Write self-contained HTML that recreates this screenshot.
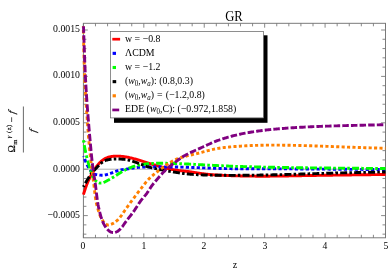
<!DOCTYPE html>
<html><head><meta charset="utf-8"><style>
html,body{margin:0;padding:0;background:#fff;}
html{overflow:hidden;width:388px;height:277px;}
body{width:388px;height:277px;position:relative;overflow:hidden;will-change:transform;font-family:"Liberation Serif",serif;color:#000;}
.t{position:absolute;white-space:nowrap;line-height:1;}
.yl{font-size:11.4px;text-align:right;width:60px;left:19.5px;transform:scaleX(0.86);transform-origin:100% 50%;}
.xl{font-size:11.2px;text-align:center;width:20px;transform:scaleX(0.86);}
.lg{font-size:10.8px;left:125px;transform:scaleX(0.912);transform-origin:0 50%;}
.lg i{font-style:italic;}
.lg sub{font-size:7.6px;vertical-align:baseline;position:relative;top:2.2px;}
</style></head><body>
<svg width="388" height="277" viewBox="0 0 388 277" style="position:absolute;left:0;top:0">
<defs><clipPath id="pc"><rect x="81.4" y="23.3" width="306.1" height="214.5"/></clipPath></defs>
<line x1="83.4" y1="169.2" x2="385.5" y2="169.2" stroke="#b0b0b0" stroke-width="1"/>
<rect x="83.4" y="23.3" width="302.1" height="214.5" fill="none" stroke="#747474" stroke-width="0.95"/>
<path d="M83.40,237.80 v-4.40 M83.40,23.30 v4.40 M95.48,237.80 v-3.00 M95.48,23.30 v3.00 M107.57,237.80 v-3.00 M107.57,23.30 v3.00 M119.65,237.80 v-3.00 M119.65,23.30 v3.00 M131.74,237.80 v-3.00 M131.74,23.30 v3.00 M143.82,237.80 v-4.40 M143.82,23.30 v4.40 M155.90,237.80 v-3.00 M155.90,23.30 v3.00 M167.99,237.80 v-3.00 M167.99,23.30 v3.00 M180.07,237.80 v-3.00 M180.07,23.30 v3.00 M192.16,237.80 v-3.00 M192.16,23.30 v3.00 M204.24,237.80 v-4.40 M204.24,23.30 v4.40 M216.32,237.80 v-3.00 M216.32,23.30 v3.00 M228.41,237.80 v-3.00 M228.41,23.30 v3.00 M240.49,237.80 v-3.00 M240.49,23.30 v3.00 M252.58,237.80 v-3.00 M252.58,23.30 v3.00 M264.66,237.80 v-4.40 M264.66,23.30 v4.40 M276.74,237.80 v-3.00 M276.74,23.30 v3.00 M288.83,237.80 v-3.00 M288.83,23.30 v3.00 M300.91,237.80 v-3.00 M300.91,23.30 v3.00 M313.00,237.80 v-3.00 M313.00,23.30 v3.00 M325.08,237.80 v-4.40 M325.08,23.30 v4.40 M337.16,237.80 v-3.00 M337.16,23.30 v3.00 M349.25,237.80 v-3.00 M349.25,23.30 v3.00 M361.33,237.80 v-3.00 M361.33,23.30 v3.00 M373.42,237.80 v-3.00 M373.42,23.30 v3.00 M385.50,237.80 v-4.40 M385.50,23.30 v4.40 M83.40,234.16 h3.00 M385.50,234.16 h-3.00 M83.40,224.88 h3.00 M385.50,224.88 h-3.00 M83.40,215.60 h4.40 M385.50,215.60 h-4.40 M83.40,206.32 h3.00 M385.50,206.32 h-3.00 M83.40,197.04 h3.00 M385.50,197.04 h-3.00 M83.40,187.76 h3.00 M385.50,187.76 h-3.00 M83.40,178.48 h3.00 M385.50,178.48 h-3.00 M83.40,169.20 h4.40 M385.50,169.20 h-4.40 M83.40,159.92 h3.00 M385.50,159.92 h-3.00 M83.40,150.64 h3.00 M385.50,150.64 h-3.00 M83.40,141.36 h3.00 M385.50,141.36 h-3.00 M83.40,132.08 h3.00 M385.50,132.08 h-3.00 M83.40,122.80 h4.40 M385.50,122.80 h-4.40 M83.40,113.52 h3.00 M385.50,113.52 h-3.00 M83.40,104.24 h3.00 M385.50,104.24 h-3.00 M83.40,94.96 h3.00 M385.50,94.96 h-3.00 M83.40,85.68 h3.00 M385.50,85.68 h-3.00 M83.40,76.40 h4.40 M385.50,76.40 h-4.40 M83.40,67.12 h3.00 M385.50,67.12 h-3.00 M83.40,57.84 h3.00 M385.50,57.84 h-3.00 M83.40,48.56 h3.00 M385.50,48.56 h-3.00 M83.40,39.28 h3.00 M385.50,39.28 h-3.00 M83.40,30.00 h4.40 M385.50,30.00 h-4.40" stroke="#747474" stroke-width="0.85" fill="none"/>
<g clip-path="url(#pc)" fill="none" stroke-width="2.9" stroke-linejoin="round">
<path d="M83.40,194.60 L83.65,193.82 L83.90,193.04 L84.15,192.27 L84.40,191.49 L84.65,190.71 L84.91,189.94 L85.16,189.16 L85.43,188.39 L85.70,187.62 L85.97,186.85 L86.25,186.08 L86.53,185.32 L86.82,184.56 L87.12,183.79 L87.42,183.04 L87.73,182.28 L88.05,181.53 L88.38,180.78 L88.71,180.03 L89.05,179.29 L89.39,178.55 L89.75,177.81 L90.11,177.08 L90.48,176.35 L90.85,175.63 L91.23,174.90 L91.63,174.19 L92.02,173.47 L92.43,172.77 L92.84,172.06 L93.26,171.36 L93.69,170.67 L94.13,169.99 L94.58,169.30 L95.04,168.63 L95.50,167.96 L95.98,167.29 L96.46,166.64 L96.96,165.98 L97.47,165.34 L97.99,164.70 L98.52,164.07 L99.07,163.45 L99.62,162.84 L100.20,162.25 L100.79,161.68 L101.40,161.13 L102.02,160.61 L102.67,160.11 L103.33,159.63 L104.01,159.19 L104.72,158.78 L105.45,158.41 L106.19,158.06 L106.95,157.75 L107.72,157.46 L108.50,157.21 L109.29,156.99 L110.09,156.79 L110.89,156.62 L111.70,156.48 L112.51,156.36 L113.32,156.27 L114.14,156.20 L114.95,156.15 L115.77,156.12 L116.59,156.10 L117.40,156.10 L118.22,156.12 L119.04,156.15 L119.85,156.20 L120.67,156.25 L121.48,156.32 L122.30,156.41 L123.11,156.50 L123.92,156.61 L124.73,156.73 L125.54,156.85 L126.34,156.99 L127.15,157.14 L127.95,157.29 L128.75,157.45 L129.55,157.62 L130.35,157.80 L131.14,157.99 L131.94,158.18 L132.73,158.37 L133.52,158.58 L134.31,158.79 L135.10,159.00 L135.88,159.22 L136.67,159.44 L137.45,159.67 L138.24,159.90 L139.02,160.13 L139.80,160.37 L140.58,160.61 L141.36,160.85 L142.14,161.10 L142.92,161.34 L143.70,161.59 L144.48,161.83 L145.26,162.08 L146.04,162.33 L146.82,162.58 L147.60,162.82 L148.37,163.07 L149.15,163.32 L149.93,163.56 L150.71,163.81 L151.49,164.05 L152.27,164.30 L153.05,164.54 L153.83,164.78 L154.61,165.01 L155.39,165.25 L156.18,165.48 L156.96,165.71 L157.74,165.94 L158.53,166.17 L159.31,166.39 L160.10,166.61 L160.88,166.83 L161.67,167.05 L162.46,167.26 L163.25,167.47 L164.04,167.67 L164.83,167.87 L165.62,168.07 L166.42,168.26 L167.21,168.44 L168.01,168.63 L168.81,168.80 L169.60,168.98 L170.40,169.14 L171.20,169.31 L172.01,169.46 L172.81,169.62 L173.61,169.76 L174.42,169.90 L175.22,170.04 L176.03,170.17 L176.84,170.29 L177.65,170.40 L178.46,170.51 L179.27,170.61 L180.08,170.71 L180.89,170.80 L181.70,170.88 L182.51,170.96 L183.33,171.04 L184.14,171.11 L184.95,171.19 L185.76,171.27 L186.58,171.35 L187.39,171.44 L188.20,171.54 L189.01,171.64 L189.82,171.74 L190.62,171.85 L191.43,171.97 L192.24,172.09 L193.05,172.21 L193.86,172.33 L194.66,172.46 L195.47,172.58 L196.28,172.71 L197.08,172.84 L197.89,172.96 L198.70,173.09 L199.50,173.22 L200.31,173.34 L201.12,173.46 L201.93,173.58 L202.73,173.70 L203.54,173.81 L204.35,173.92 L205.16,174.02 L205.97,174.12 L206.78,174.21 L207.59,174.30 L208.40,174.38 L209.22,174.46 L210.03,174.54 L210.84,174.61 L211.66,174.68 L212.47,174.74 L213.28,174.80 L214.10,174.86 L214.91,174.91 L215.73,174.97 L216.54,175.02 L217.36,175.06 L218.17,175.11 L218.99,175.15 L219.81,175.19 L220.62,175.23 L221.44,175.27 L222.25,175.31 L223.07,175.35 L223.89,175.39 L224.70,175.42 L225.52,175.46 L226.34,175.49 L227.15,175.52 L227.97,175.56 L228.78,175.59 L229.60,175.62 L230.42,175.65 L231.23,175.68 L232.05,175.70 L232.86,175.73 L233.68,175.76 L234.50,175.78 L235.31,175.81 L236.13,175.83 L236.94,175.86 L237.76,175.88 L238.58,175.90 L239.39,175.92 L240.21,175.94 L241.03,175.96 L241.84,175.98 L242.66,176.00 L243.47,176.01 L244.29,176.03 L245.11,176.05 L245.92,176.06 L246.74,176.07 L247.55,176.09 L248.37,176.10 L249.19,176.11 L250.00,176.12 L250.82,176.13 L251.64,176.14 L252.45,176.15 L253.27,176.16 L254.08,176.17 L254.90,176.17 L255.72,176.18 L256.53,176.18 L257.35,176.19 L258.16,176.19 L258.98,176.20 L259.80,176.20 L260.61,176.20 L261.43,176.20 L262.25,176.20 L263.06,176.20 L263.88,176.20 L264.69,176.20 L265.51,176.20 L266.33,176.19 L267.14,176.19 L267.96,176.19 L268.78,176.18 L269.59,176.18 L270.41,176.17 L271.22,176.16 L272.04,176.16 L272.86,176.15 L273.67,176.14 L274.49,176.13 L275.31,176.12 L276.12,176.11 L276.94,176.10 L277.75,176.09 L278.57,176.08 L279.39,176.07 L280.20,176.06 L281.02,176.05 L281.84,176.04 L282.65,176.02 L283.47,176.01 L284.28,176.00 L285.10,175.98 L285.92,175.97 L286.73,175.96 L287.55,175.94 L288.37,175.93 L289.18,175.91 L290.00,175.90 L290.81,175.89 L291.63,175.87 L292.45,175.86 L293.26,175.84 L294.08,175.82 L294.90,175.81 L295.71,175.79 L296.53,175.78 L297.34,175.76 L298.16,175.75 L298.98,175.73 L299.79,175.72 L300.61,175.70 L301.43,175.69 L302.24,175.67 L303.06,175.65 L303.87,175.64 L304.69,175.62 L305.51,175.61 L306.32,175.59 L307.14,175.58 L307.96,175.56 L308.77,175.55 L309.59,175.54 L310.40,175.52 L311.22,175.51 L312.04,175.49 L312.85,175.48 L313.67,175.47 L314.49,175.45 L315.30,175.44 L316.12,175.43 L316.93,175.41 L317.75,175.40 L318.57,175.39 L319.38,175.37 L320.20,175.36 L321.02,175.35 L321.83,175.34 L322.65,175.32 L323.46,175.31 L324.28,175.30 L325.10,175.29 L325.91,175.28 L326.73,175.26 L327.55,175.25 L328.36,175.24 L329.18,175.23 L329.99,175.22 L330.81,175.21 L331.63,175.19 L332.44,175.18 L333.26,175.17 L334.08,175.16 L334.89,175.15 L335.71,175.14 L336.52,175.13 L337.34,175.11 L338.16,175.10 L338.97,175.09 L339.79,175.08 L340.61,175.07 L341.42,175.06 L342.24,175.05 L343.05,175.04 L343.87,175.03 L344.69,175.02 L345.50,175.01 L346.32,175.00 L347.14,174.99 L347.95,174.97 L348.77,174.96 L349.58,174.95 L350.40,174.94 L351.22,174.93 L352.03,174.92 L352.85,174.91 L353.67,174.90 L354.48,174.89 L355.30,174.88 L356.11,174.87 L356.93,174.86 L357.75,174.85 L358.56,174.84 L359.38,174.83 L360.20,174.82 L361.01,174.81 L361.83,174.80 L362.64,174.79 L363.46,174.78 L364.28,174.77 L365.09,174.76 L365.91,174.74 L366.73,174.73 L367.54,174.72 L368.36,174.71 L369.17,174.70 L369.99,174.69 L370.81,174.68 L371.62,174.67 L372.44,174.66 L373.26,174.65 L374.07,174.64 L374.89,174.63 L375.70,174.62 L376.52,174.61 L377.34,174.60 L378.15,174.59 L378.97,174.58 L379.79,174.57 L380.60,174.56 L381.42,174.55 L382.23,174.54 L383.05,174.53 L383.87,174.52 L384.68,174.51 L385.50,174.50" stroke="#ff0000"/>
<path d="M83.40,156.20 L83.61,156.72 M84.58,159.04 L84.61,159.11 L84.91,159.83 L85.22,160.56 L85.54,161.28 L85.85,162.00 L86.00,162.32 M87.05,164.60 L87.17,164.84 L87.51,165.54 L87.87,166.24 L88.23,166.93 L88.61,167.62 L88.69,167.75 M90.00,169.84 L90.30,170.28 L90.78,170.92 L91.28,171.55 L91.81,172.15 L92.17,172.51 M94.05,173.91 L94.30,174.05 L95.03,174.32 L95.79,174.52 L96.57,174.66 L97.15,174.75 M99.39,175.04 L99.72,175.08 L100.51,175.15 L101.29,175.20 L102.07,175.21 L102.58,175.20 M104.82,174.98 L105.17,174.92 L105.94,174.77 L106.70,174.59 L107.47,174.38 L107.95,174.24 M110.12,173.53 L110.50,173.40 L111.24,173.13 L111.99,172.85 L112.73,172.57 L113.16,172.41 M115.30,171.60 L115.68,171.46 L116.42,171.20 L117.16,170.95 L117.91,170.71 L118.37,170.57 M120.56,169.99 L120.92,169.91 L121.69,169.76 L122.46,169.63 L123.24,169.51 L123.72,169.44 M125.96,169.16 L126.36,169.11 L127.14,169.01 L127.93,168.91 L128.71,168.80 L129.14,168.74 M131.37,168.39 L131.82,168.31 L132.59,168.18 L133.37,168.06 L134.14,167.93 L134.53,167.87 M136.77,167.55 L137.25,167.49 L138.03,167.40 L138.81,167.32 L139.59,167.25 L139.95,167.22 M142.20,167.09 L142.72,167.07 L143.51,167.05 L144.29,167.03 L145.08,167.02 L145.40,167.01 M147.65,167.00 L148.23,167.00 L149.02,167.00 L149.81,167.00 L150.60,167.00 L150.85,167.00 M153.10,167.00 L153.74,167.00 L154.53,167.00 L155.32,167.00 L156.10,167.00 L156.30,167.00 M158.55,167.00 L159.25,166.99 L160.04,166.99 L160.82,166.99 L161.61,166.99 L161.75,166.99 M164.00,166.99 L164.75,166.99 L165.54,166.99 L166.32,166.99 L167.11,166.99 L167.20,166.99 M169.45,167.00 L169.46,167.00 L170.25,167.00 L171.03,167.00 L171.82,167.01 L172.60,167.01 L172.65,167.01 M174.90,167.03 L174.96,167.03 L175.74,167.04 L176.53,167.05 L177.31,167.06 L178.10,167.07 L178.10,167.07 M180.35,167.11 L180.45,167.11 L181.24,167.12 L182.02,167.14 L182.81,167.16 L183.55,167.17 M185.80,167.23 L185.95,167.24 L186.73,167.26 L187.52,167.28 L188.30,167.30 L189.00,167.33 M191.25,167.40 L191.44,167.41 L192.23,167.43 L193.01,167.46 L193.80,167.49 L194.45,167.51 M196.69,167.59 L196.94,167.60 L197.72,167.63 L198.51,167.66 L199.29,167.69 L199.89,167.72 M202.14,167.80 L202.43,167.82 L203.22,167.85 L204.01,167.88 L204.79,167.91 L205.34,167.93 M207.59,168.02 L207.93,168.03 L208.72,168.06 L209.50,168.09 L210.29,168.12 L210.79,168.14 M213.03,168.22 L213.43,168.23 L214.22,168.26 L215.00,168.29 L215.79,168.32 L216.23,168.33 M218.48,168.40 L218.93,168.41 L219.71,168.44 L220.50,168.46 L221.29,168.48 L221.68,168.49 M223.93,168.55 L224.43,168.56 L225.21,168.58 L226.00,168.59 L226.79,168.61 L227.13,168.61 M229.38,168.65 L229.93,168.66 L230.71,168.67 L231.50,168.68 L232.28,168.69 L232.58,168.70 M234.83,168.72 L235.43,168.73 L236.21,168.74 L237.00,168.74 L237.78,168.75 L238.03,168.75 M240.28,168.77 L240.93,168.77 L241.71,168.78 L242.50,168.78 L243.28,168.78 L243.48,168.78 M245.73,168.79 L246.43,168.79 L247.21,168.79 L248.00,168.79 L248.79,168.80 L248.93,168.80 M251.18,168.80 L251.93,168.80 L252.71,168.80 L253.50,168.80 L254.29,168.80 L254.38,168.80 M256.63,168.80 L256.64,168.80 L257.43,168.80 L258.21,168.80 L259.00,168.80 L259.79,168.80 L259.83,168.80 M262.08,168.80 L262.14,168.80 L262.93,168.80 L263.71,168.80 L264.50,168.80 L265.28,168.80 M267.53,168.80 L267.64,168.80 L268.43,168.81 L269.21,168.81 L270.00,168.81 L270.73,168.81 M272.98,168.82 L273.14,168.82 L273.93,168.82 L274.71,168.82 L275.50,168.82 L276.18,168.83 M278.43,168.84 L278.64,168.84 L279.43,168.84 L280.21,168.84 L281.00,168.85 L281.63,168.85 M283.88,168.86 L284.14,168.86 L284.93,168.87 L285.71,168.87 L286.50,168.87 L287.08,168.88 M289.33,168.89 L289.64,168.89 L290.43,168.90 L291.21,168.90 L292.00,168.91 L292.53,168.91 M294.78,168.92 L295.14,168.93 L295.93,168.93 L296.71,168.94 L297.50,168.94 L297.98,168.94 M300.23,168.96 L300.64,168.96 L301.43,168.97 L302.21,168.97 L303.00,168.98 L303.43,168.98 M305.68,169.00 L306.14,169.00 L306.93,169.01 L307.71,169.01 L308.50,169.02 L308.88,169.02 M311.13,169.04 L311.64,169.04 L312.43,169.05 L313.21,169.05 L314.00,169.06 L314.33,169.06 M316.58,169.08 L317.14,169.08 L317.93,169.09 L318.71,169.09 L319.50,169.10 L319.78,169.10 M322.03,169.12 L322.64,169.12 L323.43,169.13 L324.21,169.13 L325.00,169.14 L325.23,169.14 M327.48,169.16 L328.14,169.16 L328.93,169.17 L329.71,169.18 L330.50,169.18 L330.68,169.18 M332.93,169.20 L333.64,169.21 L334.43,169.21 L335.21,169.22 L336.00,169.22 L336.13,169.22 M338.38,169.24 L339.14,169.25 L339.93,169.25 L340.71,169.26 L341.50,169.27 L341.58,169.27 M343.83,169.28 L343.86,169.28 L344.64,169.29 L345.43,169.30 L346.21,169.30 L347.00,169.31 L347.03,169.31 M349.28,169.33 L349.36,169.33 L350.14,169.33 L350.93,169.34 L351.71,169.34 L352.48,169.35 M354.73,169.37 L354.86,169.37 L355.64,169.37 L356.43,169.38 L357.21,169.39 L357.93,169.39 M360.18,169.41 L360.36,169.41 L361.14,169.42 L361.93,169.42 L362.71,169.43 L363.38,169.43 M365.63,169.45 L365.86,169.45 L366.64,169.46 L367.43,169.46 L368.21,169.47 L368.83,169.47 M371.08,169.49 L371.36,169.49 L372.14,169.50 L372.93,169.50 L373.71,169.51 L374.28,169.52 M376.53,169.53 L376.86,169.53 L377.64,169.54 L378.43,169.55 L379.21,169.55 L379.73,169.56 M381.98,169.57 L382.36,169.58 L383.14,169.58 L383.93,169.59 L384.71,169.59 L385.18,169.60" stroke="#0000ff"/>
<path d="M83.40,140.20 L83.55,141.03 L83.69,141.87 L83.82,142.63 M84.26,145.10 L84.28,145.20 L84.43,146.03 L84.58,146.86 L84.74,147.69 L84.90,148.53 L85.06,149.36 L85.22,150.19 L85.39,151.02 L85.56,151.84 L85.73,152.67 L85.78,152.91 M86.32,155.35 L86.47,155.97 L86.66,156.80 L86.86,157.62 L87.01,158.22 M87.63,160.64 L87.70,160.90 L87.92,161.71 L88.15,162.53 L88.38,163.34 L88.62,164.15 L88.86,164.97 L89.11,165.78 L89.35,166.58 L89.60,167.39 L89.86,168.20 L89.87,168.23 M90.62,170.59 L90.62,170.62 L90.88,171.42 L91.14,172.23 L91.39,173.03 L91.51,173.38 M92.36,175.70 L92.57,176.19 L92.92,176.96 L93.32,177.71 L93.76,178.45 L94.26,179.18 L94.80,179.88 L95.40,180.55 L96.04,181.17 L96.72,181.73 L96.78,181.78 M98.77,182.83 L98.95,182.89 L99.73,183.05 L100.54,183.09 L101.35,183.03 M103.49,182.45 L103.83,182.32 L104.65,181.97 L105.47,181.58 L106.27,181.17 L107.06,180.76 L107.83,180.34 L108.59,179.93 L109.34,179.51 L109.88,179.21 M111.84,178.07 L112.24,177.83 L112.95,177.40 L113.65,176.97 L114.14,176.66 M116.06,175.44 L116.48,175.17 L117.19,174.72 L117.90,174.26 L118.61,173.80 L119.33,173.35 L120.05,172.90 L120.78,172.45 L121.50,172.01 L122.20,171.60 M124.18,170.50 L124.46,170.34 L125.21,169.95 L125.96,169.57 L126.55,169.29 M128.60,168.36 L129.04,168.17 L129.82,167.85 L130.61,167.54 L131.40,167.25 L132.20,166.96 L133.01,166.69 L133.81,166.43 L134.62,166.19 L135.28,166.00 M137.43,165.44 L137.90,165.32 L138.73,165.14 L139.55,164.96 L139.98,164.88 M142.15,164.49 L142.89,164.37 L143.73,164.25 L144.56,164.13 L145.40,164.03 L146.25,163.93 L147.09,163.85 L147.93,163.77 L148.77,163.69 L149.11,163.67 M151.31,163.52 L152.15,163.47 L153.00,163.43 L153.84,163.39 L153.91,163.39 M156.11,163.32 L156.38,163.31 L157.23,163.30 L158.07,163.29 L158.92,163.28 L159.76,163.27 L160.61,163.27 L161.46,163.27 L162.30,163.27 L163.11,163.28 M165.31,163.30 L165.69,163.31 L166.53,163.32 L167.38,163.34 L167.91,163.35 M170.11,163.39 L170.76,163.41 L171.61,163.43 L172.45,163.45 L173.30,163.47 L174.14,163.50 L174.99,163.52 L175.83,163.55 L176.68,163.58 L177.10,163.59 M179.30,163.67 L180.06,163.70 L180.90,163.74 L181.75,163.77 L181.90,163.78 M184.10,163.87 L184.28,163.88 L185.13,163.91 L185.97,163.95 L186.82,163.99 L187.66,164.03 L188.51,164.07 L189.35,164.11 L190.20,164.15 L191.04,164.19 L191.09,164.19 M193.29,164.30 L193.58,164.32 L194.42,164.36 L195.26,164.41 L195.89,164.44 M198.09,164.55 L198.64,164.58 L199.49,164.63 L200.33,164.67 L201.18,164.72 L202.02,164.77 L202.87,164.81 L203.71,164.86 L204.56,164.90 L205.08,164.93 M207.28,165.05 L207.93,165.09 L208.78,165.13 L209.62,165.18 L209.87,165.19 M212.07,165.31 L212.16,165.31 L213.00,165.36 L213.85,165.40 L214.69,165.44 L215.54,165.49 L216.38,165.53 L217.23,165.57 L218.07,165.61 L218.91,165.65 L219.06,165.66 M221.26,165.77 L221.45,165.77 L222.29,165.81 L223.14,165.85 L223.86,165.88 M226.06,165.98 L226.52,166.00 L227.36,166.03 L228.21,166.07 L229.05,166.10 L229.90,166.13 L230.74,166.17 L231.59,166.20 L232.43,166.23 L233.06,166.25 M235.25,166.33 L235.82,166.35 L236.66,166.38 L237.51,166.41 L237.85,166.42 M240.05,166.49 L240.89,166.52 L241.73,166.54 L242.58,166.57 L243.42,166.59 L244.27,166.62 L245.11,166.64 L245.96,166.67 L246.81,166.69 L247.05,166.70 M249.25,166.75 L249.34,166.76 L250.19,166.78 L251.03,166.80 L251.85,166.82 M254.05,166.88 L254.42,166.88 L255.26,166.90 L256.11,166.92 L256.95,166.94 L257.80,166.96 L258.64,166.98 L259.49,167.00 L260.33,167.02 L261.05,167.04 M263.25,167.08 L263.72,167.09 L264.56,167.11 L265.41,167.13 L265.85,167.14 M268.05,167.18 L268.79,167.20 L269.64,167.22 L270.48,167.23 L271.33,167.25 L272.17,167.26 L273.02,167.28 L273.86,167.30 L274.71,167.31 L275.04,167.32 M277.24,167.36 L277.25,167.36 L278.09,167.38 L278.94,167.39 L279.78,167.41 L279.84,167.41 M282.04,167.44 L282.32,167.45 L283.17,167.46 L284.01,167.48 L284.86,167.49 L285.70,167.51 L286.55,167.52 L287.40,167.53 L288.24,167.55 L289.04,167.56 M291.24,167.59 L291.62,167.60 L292.47,167.61 L293.31,167.63 L293.84,167.63 M296.04,167.67 L296.70,167.67 L297.54,167.69 L298.39,167.70 L299.23,167.71 L300.08,167.72 L300.93,167.73 L301.77,167.75 L302.62,167.76 L303.04,167.76 M305.24,167.79 L306.00,167.80 L306.85,167.81 L307.69,167.82 L307.84,167.82 M310.04,167.85 L310.23,167.85 L311.07,167.86 L311.92,167.87 L312.77,167.88 L313.61,167.89 L314.46,167.90 L315.30,167.91 L316.15,167.92 L316.99,167.93 L317.04,167.93 M319.24,167.95 L319.53,167.96 L320.38,167.97 L321.22,167.97 L321.84,167.98 M324.04,168.00 L324.61,168.01 L325.45,168.02 L326.30,168.02 L327.14,168.03 L327.99,168.04 L328.83,168.05 L329.68,168.06 L330.53,168.07 L331.04,168.07 M333.24,168.09 L333.91,168.10 L334.75,168.10 L335.60,168.11 L335.84,168.11 M338.04,168.13 L338.14,168.13 L338.98,168.14 L339.83,168.15 L340.68,168.16 L341.52,168.16 L342.37,168.17 L343.21,168.18 L344.06,168.18 L344.90,168.19 L345.04,168.19 M347.24,168.21 L347.44,168.21 L348.29,168.22 L349.13,168.23 L349.84,168.23 M352.04,168.25 L352.52,168.25 L353.36,168.26 L354.21,168.27 L355.05,168.27 L355.90,168.28 L356.74,168.29 L357.59,168.29 L358.44,168.30 L359.04,168.30 M361.24,168.32 L361.82,168.32 L362.66,168.33 L363.51,168.34 L363.84,168.34 M366.04,168.36 L366.05,168.36 L366.89,168.36 L367.74,168.37 L368.58,168.38 L369.43,168.38 L370.28,168.39 L371.12,168.39 L371.97,168.40 L372.81,168.41 L373.04,168.41 M375.24,168.43 L375.35,168.43 L376.20,168.43 L377.04,168.44 L377.84,168.44 M380.04,168.46 L380.43,168.46 L381.27,168.47 L382.12,168.48 L382.96,168.48 L383.81,168.49 L384.65,168.49 L385.50,168.50" stroke="#00ff00"/>
<path d="M83.40,186.90 L83.77,186.20 L84.15,185.50 L84.19,185.43 M85.35,183.29 L85.67,182.71 L86.05,182.02 L86.44,181.32 L86.84,180.63 L87.24,179.95 L87.64,179.26 L88.05,178.58 L88.47,177.90 L88.89,177.23 L89.26,176.66 M90.62,174.68 L90.68,174.60 L91.15,173.96 L91.63,173.33 L92.12,172.71 L92.31,172.49 M93.85,170.70 L94.19,170.32 L94.73,169.74 L95.27,169.15 L95.81,168.57 L96.36,167.99 L96.92,167.41 L97.47,166.83 L98.03,166.25 L98.58,165.66 L98.98,165.25 M100.66,163.63 L100.89,163.43 L101.49,162.91 L102.11,162.42 L102.75,161.96 M104.72,160.84 L104.81,160.80 L105.54,160.49 L106.29,160.22 L107.05,159.99 L107.83,159.78 L108.61,159.61 L109.40,159.46 L110.20,159.34 L110.99,159.24 L111.54,159.19 M113.74,159.05 L114.16,159.03 L114.95,159.01 L115.75,159.00 L116.29,159.00 M118.49,159.02 L118.93,159.03 L119.73,159.05 L120.53,159.09 L121.33,159.13 L122.12,159.19 L122.91,159.25 L123.71,159.33 L124.50,159.42 L125.28,159.53 L125.47,159.55 M127.65,159.93 L128.40,160.09 L129.17,160.27 L129.94,160.46 L130.14,160.52 M132.27,161.14 L132.97,161.37 L133.73,161.62 L134.48,161.88 L135.23,162.15 L135.97,162.42 L136.72,162.70 L137.46,162.98 L138.21,163.27 L138.95,163.55 M141.03,164.36 L141.19,164.41 L141.93,164.70 L142.68,164.98 L143.43,165.25 L143.46,165.26 M145.56,165.99 L145.68,166.03 L146.44,166.27 L147.20,166.51 L147.96,166.74 L148.72,166.96 L149.49,167.17 L150.25,167.38 L151.02,167.58 L151.79,167.78 L152.35,167.92 M154.51,168.42 L154.88,168.51 L155.66,168.68 L156.44,168.85 L157.01,168.97 M159.18,169.41 L159.56,169.48 L160.34,169.63 L161.12,169.78 L161.90,169.93 L162.68,170.07 L163.47,170.22 L164.25,170.36 L165.03,170.51 L165.81,170.65 L166.09,170.70 M168.26,171.09 L168.95,171.21 L169.73,171.35 L170.51,171.49 L170.78,171.54 M172.96,171.91 L173.65,172.03 L174.43,172.16 L175.21,172.29 L176.00,172.41 L176.78,172.54 L177.57,172.66 L178.35,172.78 L179.14,172.90 L179.89,173.01 M182.08,173.31 L182.28,173.34 L183.07,173.44 L183.86,173.54 L184.61,173.63 M186.80,173.88 L187.01,173.90 L187.80,173.98 L188.59,174.06 L189.38,174.13 L190.17,174.20 L190.96,174.27 L191.75,174.33 L192.55,174.39 L193.34,174.45 L193.78,174.48 M195.98,174.62 L196.51,174.65 L197.30,174.69 L198.10,174.73 L198.52,174.75 M200.72,174.85 L201.27,174.87 L202.07,174.90 L202.86,174.93 L203.66,174.96 L204.45,174.98 L205.24,175.01 L206.04,175.03 L206.83,175.05 L207.63,175.07 L207.72,175.08 M209.92,175.13 L210.01,175.13 L210.80,175.15 L211.60,175.16 L212.39,175.18 L212.47,175.18 M214.67,175.22 L214.77,175.22 L215.57,175.23 L216.36,175.24 L217.16,175.25 L217.95,175.26 L218.74,175.27 L219.54,175.28 L220.33,175.29 L221.13,175.29 L221.67,175.30 M223.87,175.31 L224.30,175.32 L225.10,175.32 L225.89,175.32 L226.42,175.33 M228.62,175.33 L229.07,175.33 L229.86,175.34 L230.66,175.34 L231.45,175.34 L232.25,175.34 L233.04,175.34 L233.83,175.34 L234.63,175.33 L235.42,175.33 L235.62,175.33 M237.82,175.32 L238.60,175.32 L239.39,175.32 L240.19,175.31 L240.37,175.31 M242.57,175.30 L242.57,175.30 L243.37,175.29 L244.16,175.28 L244.95,175.28 L245.75,175.27 L246.54,175.26 L247.34,175.25 L248.13,175.24 L248.93,175.24 L249.57,175.23 M251.77,175.20 L252.10,175.20 L252.90,175.19 L253.69,175.17 L254.32,175.17 M256.52,175.13 L256.87,175.13 L257.66,175.11 L258.46,175.10 L259.25,175.09 L260.05,175.07 L260.84,175.06 L261.63,175.04 L262.43,175.03 L263.22,175.02 L263.52,175.01 M265.72,174.97 L266.40,174.95 L267.19,174.94 L267.99,174.92 L268.27,174.91 M270.47,174.86 L271.16,174.85 L271.96,174.83 L272.75,174.81 L273.55,174.79 L274.34,174.77 L275.13,174.76 L275.93,174.74 L276.72,174.72 L277.46,174.70 M279.66,174.64 L279.90,174.64 L280.69,174.62 L281.49,174.60 L282.21,174.58 M284.41,174.52 L284.66,174.51 L285.46,174.49 L286.25,174.47 L287.04,174.45 L287.84,174.42 L288.63,174.40 L289.43,174.38 L290.22,174.36 L291.01,174.34 L291.41,174.32 M293.61,174.26 L294.19,174.24 L294.98,174.22 L295.78,174.20 L296.16,174.19 M298.36,174.12 L298.95,174.11 L299.75,174.08 L300.54,174.06 L301.33,174.04 L302.13,174.01 L302.92,173.99 L303.72,173.97 L304.51,173.94 L305.30,173.92 L305.36,173.92 M307.55,173.85 L307.69,173.85 L308.48,173.83 L309.27,173.80 L310.07,173.78 L310.10,173.78 M312.30,173.71 L312.45,173.71 L313.24,173.69 L314.04,173.66 L314.83,173.64 L315.62,173.62 L316.42,173.60 L317.21,173.57 L318.01,173.55 L318.80,173.53 L319.30,173.51 M321.50,173.45 L321.98,173.44 L322.77,173.41 L323.56,173.39 L324.05,173.38 M326.25,173.32 L326.74,173.30 L327.53,173.28 L328.33,173.26 L329.12,173.24 L329.92,173.21 L330.71,173.19 L331.50,173.17 L332.30,173.15 L333.09,173.13 L333.25,173.12 M335.45,173.07 L335.47,173.06 L336.27,173.04 L337.06,173.02 L337.86,173.00 L338.00,173.00 M340.19,172.94 L340.24,172.94 L341.03,172.92 L341.83,172.90 L342.62,172.88 L343.41,172.86 L344.21,172.84 L345.00,172.82 L345.80,172.80 L346.59,172.79 L347.19,172.77 M349.39,172.72 L349.77,172.71 L350.56,172.69 L351.35,172.68 L351.94,172.66 M354.14,172.61 L354.53,172.61 L355.32,172.59 L356.12,172.57 L356.91,172.55 L357.71,172.54 L358.50,172.52 L359.29,172.50 L360.09,172.49 L360.88,172.47 L361.14,172.47 M363.34,172.42 L364.06,172.41 L364.85,172.39 L365.65,172.38 L365.89,172.37 M368.09,172.33 L368.82,172.31 L369.62,172.30 L370.41,172.28 L371.21,172.27 L372.00,172.25 L372.79,172.24 L373.59,172.22 L374.38,172.21 L375.09,172.19 M377.29,172.15 L377.56,172.15 L378.35,172.13 L379.15,172.12 L379.84,172.10 M382.04,172.06 L382.32,172.06 L383.12,172.04 L383.91,172.03 L384.71,172.01 L385.50,172.00" stroke="#000000"/>
<path d="M83.20,26.20 L83.23,27.34 M83.30,29.98 L83.30,30.04 L83.34,31.32 L83.37,32.60 L83.40,33.53 M83.47,36.17 L83.48,36.43 L83.51,37.71 L83.55,38.99 L83.57,39.71 M83.64,42.35 L83.65,42.83 L83.69,44.11 L83.72,45.39 L83.74,45.90 M83.81,48.54 L83.83,49.22 L83.86,50.50 L83.89,51.78 L83.90,52.09 M83.97,54.73 L84.00,55.62 L84.03,56.90 L84.07,58.18 L84.07,58.27 M84.14,60.91 L84.18,62.01 L84.21,63.29 L84.25,64.46 M84.33,67.10 L84.33,67.13 L84.37,68.41 L84.42,69.69 L84.45,70.64 M84.54,73.28 L84.55,73.52 L84.60,74.80 L84.65,76.08 L84.68,76.83 M84.79,79.47 L84.81,79.92 L84.86,81.19 L84.92,82.47 L84.95,83.01 M85.08,85.65 L85.11,86.31 L85.18,87.58 L85.25,88.86 L85.26,89.19 M85.41,91.82 L85.46,92.69 L85.54,93.97 L85.61,95.25 L85.62,95.36 M85.78,98.00 L85.85,99.08 L85.93,100.36 L86.01,101.53 M86.18,104.17 L86.18,104.19 L86.26,105.47 L86.35,106.74 L86.41,107.71 M86.59,110.34 L86.60,110.57 L86.69,111.85 L86.78,113.13 L86.83,113.88 M87.01,116.51 L87.04,116.96 L87.13,118.23 L87.21,119.51 L87.25,120.05 M87.44,122.68 L87.48,123.34 L87.58,124.61 L87.67,125.89 L87.69,126.22 M87.89,128.85 L87.95,129.72 L88.05,130.99 L88.15,132.27 L88.16,132.38 M88.36,135.01 L88.45,136.10 L88.56,137.37 L88.65,138.54 M88.88,141.17 L88.88,141.20 L88.99,142.47 L89.10,143.75 L89.19,144.70 M89.44,147.33 L89.46,147.57 L89.58,148.84 L89.71,150.12 L89.78,150.85 M90.05,153.48 L90.10,153.94 L90.23,155.21 L90.37,156.48 L90.42,157.00 M90.71,159.62 L90.79,160.30 L90.93,161.57 L91.08,162.84 L91.11,163.14 M91.42,165.76 L91.53,166.65 L91.69,167.92 L91.85,169.19 L91.85,169.27 M92.19,171.88 L92.33,173.00 L92.49,174.27 L92.64,175.39 M92.98,178.01 L92.99,178.07 L93.16,179.34 L93.32,180.60 L93.44,181.51 M93.78,184.13 L93.82,184.41 L93.98,185.68 L94.13,186.95 L94.22,187.64 M94.53,190.26 L94.59,190.77 L94.73,192.05 L94.88,193.32 L94.93,193.77 M95.26,196.39 L95.36,197.14 L95.54,198.41 L95.73,199.67 L95.77,199.89 M96.24,202.47 L96.44,203.44 L96.72,204.68 L97.03,205.90 M97.75,208.41 L98.11,209.60 L98.49,210.83 L98.78,211.76 M99.57,214.24 L99.66,214.50 L100.10,215.70 L100.60,216.87 L100.89,217.45 M102.15,219.66 L102.50,220.21 L103.24,221.25 L104.01,222.27 L104.12,222.39 M105.88,224.09 L106.99,224.74 L108.22,225.01 L108.82,224.93 M111.05,224.29 L111.92,223.95 L113.07,223.41 L113.91,222.93 M115.87,221.54 L116.24,221.25 L117.20,220.39 L118.12,219.48 L118.28,219.30 M119.91,217.44 L120.61,216.55 L121.38,215.53 L121.93,214.75 M123.37,212.68 L123.57,212.37 L124.29,211.31 L125.01,210.25 L125.27,209.88 M126.70,207.80 L127.19,207.10 L127.93,206.05 L128.65,205.05 M130.12,203.01 L130.17,202.94 L130.93,201.90 L131.68,200.87 L132.11,200.29 M133.61,198.28 L133.98,197.79 L134.75,196.77 L135.52,195.75 L135.64,195.59 M137.15,193.60 L137.85,192.70 L138.63,191.68 L139.20,190.94 M140.73,188.96 L140.97,188.65 L141.75,187.63 L142.53,186.62 L142.78,186.29 M144.29,184.30 L144.87,183.56 L145.66,182.55 L146.38,181.68 M148.01,179.81 L148.16,179.65 L149.05,178.73 L149.96,177.84 L150.35,177.48 M152.18,175.87 L152.85,175.30 L153.84,174.48 L154.69,173.79 M156.58,172.27 L156.83,172.07 L157.83,171.27 L158.84,170.48 L159.13,170.25 M161.04,168.76 L161.87,168.13 L162.89,167.36 L163.63,166.81 M165.59,165.41 L166.01,165.12 L167.07,164.40 L168.14,163.70 L168.26,163.62 M170.29,162.37 L170.32,162.35 L171.43,161.71 L172.55,161.10 L173.08,160.82 M175.21,159.78 L176.01,159.42 L177.19,158.92 L178.12,158.57 M180.33,157.79 L180.80,157.63 L182.03,157.26 L183.26,156.90 L183.32,156.88 M185.57,156.27 L185.73,156.23 L186.97,155.92 L188.21,155.61 L188.60,155.52 M190.86,154.98 L191.94,154.73 L193.19,154.44 L193.90,154.28 M196.16,153.75 L196.93,153.56 L198.17,153.26 L199.19,153.00 M201.44,152.41 L201.89,152.30 L203.13,151.97 L204.37,151.63 L204.46,151.61 M206.71,151.01 L206.84,150.97 L208.08,150.65 L209.32,150.33 L209.74,150.23 M212.00,149.67 L213.05,149.43 L214.30,149.15 L215.04,149.00 M217.32,148.55 L218.06,148.42 L219.32,148.21 L220.38,148.04 M222.68,147.72 L223.12,147.66 L224.39,147.51 L225.66,147.36 L225.76,147.35 M228.06,147.11 L228.21,147.10 L229.49,146.98 L230.76,146.86 L231.15,146.83 M233.45,146.64 L234.60,146.55 L235.87,146.46 L236.55,146.41 M238.85,146.24 L239.70,146.18 L240.98,146.10 L241.95,146.04 M244.25,145.90 L244.81,145.87 L246.09,145.79 L247.35,145.73 M249.66,145.62 L249.92,145.60 L251.20,145.55 L252.48,145.50 L252.76,145.49 M255.07,145.40 L256.31,145.36 L257.59,145.33 L258.16,145.31 M260.47,145.25 L261.43,145.23 L262.71,145.21 L263.57,145.20 M265.88,145.16 L266.54,145.16 L267.82,145.14 L268.98,145.13 M271.29,145.12 L271.66,145.12 L272.94,145.12 L274.22,145.12 L274.39,145.12 M276.70,145.13 L276.78,145.13 L278.07,145.13 L279.35,145.14 L279.80,145.14 M282.11,145.17 L283.19,145.18 L284.47,145.19 L285.21,145.20 M287.52,145.24 L288.30,145.25 L289.58,145.27 L290.62,145.29 M292.93,145.33 L293.42,145.34 L294.70,145.37 L295.98,145.40 L296.03,145.40 M298.34,145.45 L298.54,145.45 L299.82,145.49 L301.10,145.52 L301.44,145.53 M303.75,145.59 L304.94,145.62 L306.21,145.66 L306.85,145.68 M309.16,145.74 L310.05,145.77 L311.33,145.81 L312.26,145.84 M314.57,145.92 L315.17,145.94 L316.44,145.98 L317.66,146.02 M319.97,146.10 L320.28,146.11 L321.56,146.15 L322.84,146.20 L323.07,146.21 M325.38,146.29 L325.40,146.29 L326.67,146.34 L327.95,146.39 L328.48,146.41 M330.79,146.49 L331.79,146.53 L333.07,146.58 L333.89,146.61 M336.20,146.69 L336.90,146.72 L338.18,146.77 L339.29,146.81 M341.60,146.90 L342.02,146.91 L343.30,146.96 L344.58,147.01 L344.70,147.01 M347.01,147.09 L347.13,147.10 L348.41,147.14 L349.69,147.19 L350.11,147.20 M352.42,147.28 L353.53,147.32 L354.81,147.36 L355.52,147.39 M357.83,147.46 L358.64,147.49 L359.92,147.53 L360.92,147.56 M363.23,147.64 L363.76,147.65 L365.04,147.69 L366.32,147.73 L366.33,147.73 M368.64,147.80 L368.87,147.81 L370.15,147.85 L371.43,147.89 L371.74,147.90 M374.05,147.97 L375.27,148.00 L376.55,148.04 L377.15,148.06 M379.46,148.12 L380.38,148.15 L381.66,148.19 L382.56,148.21 M384.87,148.28 L385.50,148.30" stroke="#ff8000"/>
<path d="M83.50,26.20 L83.54,27.51 L83.59,28.83 L83.63,30.14 L83.68,31.46 L83.72,32.77 L83.73,32.89 M83.81,35.33 L83.81,35.40 L83.86,36.71 L83.90,38.03 L83.95,39.34 L84.00,40.65 L84.04,41.97 L84.07,42.76 M84.16,45.19 L84.18,45.91 L84.23,47.22 L84.27,48.54 L84.32,49.85 L84.37,51.17 L84.42,52.48 L84.42,52.62 M84.51,55.06 L84.51,55.11 L84.56,56.42 L84.61,57.73 L84.66,59.05 L84.72,60.36 L84.77,61.68 L84.80,62.49 M84.90,64.92 L84.93,65.62 L84.98,66.93 L85.04,68.24 L85.10,69.56 L85.15,70.87 L85.21,72.18 L85.22,72.35 M85.33,74.78 L85.34,74.81 L85.40,76.12 L85.46,77.44 L85.53,78.75 L85.60,80.06 L85.67,81.38 L85.71,82.20 M85.85,84.64 L85.88,85.32 L85.96,86.63 L86.04,87.94 L86.12,89.25 L86.20,90.57 L86.28,91.88 L86.29,92.06 M86.44,94.49 L86.45,94.50 L86.53,95.81 L86.62,97.13 L86.71,98.44 L86.80,99.75 L86.89,101.06 L86.95,101.90 M87.12,104.33 L87.17,105.00 L87.27,106.31 L87.37,107.62 L87.46,108.93 L87.56,110.24 L87.67,111.55 L87.68,111.74 M87.87,114.16 L87.87,114.17 L87.97,115.48 L88.08,116.79 L88.18,118.10 L88.29,119.41 L88.40,120.72 L88.47,121.57 M88.67,123.99 L88.73,124.65 L88.84,125.96 L88.95,127.27 L89.06,128.58 L89.18,129.89 L89.29,131.20 L89.31,131.39 M89.52,133.82 L89.52,133.82 L89.64,135.13 L89.75,136.44 L89.87,137.75 L89.99,139.06 L90.10,140.37 L90.18,141.22 M90.40,143.64 L90.46,144.30 L90.58,145.61 L90.70,146.92 L90.82,148.23 L90.94,149.54 L91.06,150.85 L91.08,151.03 M91.31,153.46 L91.31,153.47 L91.44,154.78 L91.57,156.08 L91.70,157.39 L91.83,158.70 L91.97,160.01 L92.06,160.84 M92.34,163.26 L92.41,163.93 L92.57,165.23 L92.74,166.54 L92.90,167.84 L93.08,169.14 L93.26,170.45 L93.29,170.62 M93.64,173.02 L93.65,173.05 L93.85,174.35 L94.05,175.65 L94.25,176.94 L94.46,178.24 L94.66,179.54 L94.78,180.34 M95.14,182.74 L95.25,183.44 L95.43,184.74 L95.61,186.05 L95.77,187.35 L95.94,188.66 L96.09,189.96 L96.11,190.09 M96.39,192.51 L96.39,192.57 L96.54,193.88 L96.69,195.19 L96.85,196.49 L97.01,197.80 L97.18,199.10 L97.28,199.87 M97.63,202.28 L97.75,203.00 L97.97,204.30 L98.22,205.59 L98.48,206.88 L98.77,208.16 L99.07,209.44 L99.09,209.52 M99.67,211.87 L99.70,212.00 L100.02,213.27 L100.36,214.54 L100.71,215.81 L101.08,217.07 L101.47,218.33 L101.68,218.93 M102.52,221.17 L102.88,222.03 L103.42,223.23 L104.02,224.40 L104.66,225.55 L105.35,226.67 L105.91,227.49 M107.35,229.29 L107.78,229.77 L108.75,230.69 L109.81,231.49 L110.98,232.11 L112.24,232.48 L113.01,232.54 M115.13,232.35 L116.14,232.04 L117.33,231.45 L118.43,230.70 L119.46,229.84 L120.42,228.89 L120.65,228.62 M122.13,226.87 L122.14,226.86 L122.93,225.81 L123.69,224.74 L124.44,223.66 L125.18,222.59 L125.94,221.52 L126.25,221.11 M127.64,219.27 L128.32,218.39 L129.14,217.36 L129.95,216.32 L130.77,215.29 L131.58,214.25 L131.98,213.73 M133.36,211.88 L133.93,211.08 L134.68,210.00 L135.41,208.90 L136.12,207.79 L136.83,206.68 L137.29,205.96 M138.55,203.99 L138.96,203.37 L139.70,202.28 L140.47,201.21 L141.26,200.17 L142.08,199.14 L142.75,198.33 M144.23,196.57 L144.61,196.11 L145.45,195.09 L146.26,194.06 L147.05,193.01 L147.80,191.93 L148.46,190.93 M149.71,188.96 L149.93,188.61 L150.64,187.50 L151.37,186.40 L152.12,185.33 L152.92,184.29 L153.74,183.26 L153.80,183.19 M155.29,181.45 L155.45,181.26 L156.32,180.27 L157.19,179.28 L158.05,178.29 L158.91,177.29 L159.77,176.29 L159.87,176.18 M161.38,174.45 L161.51,174.31 L162.38,173.33 L163.27,172.36 L164.18,171.41 L165.10,170.48 L166.05,169.57 L166.18,169.45 M167.86,167.95 L168.00,167.82 L169.00,166.98 L170.02,166.14 L171.05,165.32 L172.09,164.51 L173.14,163.71 L173.18,163.68 M174.96,162.33 L175.24,162.12 L176.30,161.32 L177.35,160.54 L178.41,159.75 L179.48,158.99 L180.43,158.32 M182.27,157.09 L182.74,156.78 L183.86,156.09 L184.99,155.42 L186.13,154.78 L187.29,154.17 L188.08,153.77 M190.04,152.80 L190.83,152.43 L192.02,151.87 L193.22,151.33 L194.43,150.79 L195.63,150.26 L196.08,150.06 M198.06,149.17 L199.24,148.64 L200.44,148.09 L201.64,147.54 L202.83,146.99 L204.03,146.43 L204.09,146.40 M206.07,145.49 L206.42,145.33 L207.61,144.79 L208.81,144.24 L210.01,143.71 L211.21,143.18 L212.12,142.79 M214.12,141.95 L214.85,141.66 L216.07,141.17 L217.29,140.70 L218.52,140.25 L219.76,139.80 L220.29,139.62 M222.34,138.93 L223.50,138.55 L224.76,138.15 L226.02,137.77 L227.28,137.40 L228.54,137.04 L228.62,137.02 M230.69,136.45 L231.09,136.34 L232.36,136.01 L233.64,135.69 L234.92,135.38 L236.20,135.07 L237.04,134.88 M239.13,134.41 L240.05,134.21 L241.33,133.93 L242.62,133.67 L243.91,133.41 L245.20,133.16 L245.53,133.10 M247.63,132.71 L247.79,132.69 L249.08,132.46 L250.38,132.24 L251.67,132.02 L252.97,131.81 L254.07,131.64 M256.18,131.33 L256.87,131.23 L258.17,131.04 L259.47,130.87 L260.78,130.69 L262.08,130.53 L262.63,130.46 M264.75,130.20 L266.00,130.05 L267.31,129.91 L268.61,129.76 L269.92,129.63 L271.22,129.49 M273.34,129.28 L273.85,129.24 L275.16,129.11 L276.47,129.00 L277.78,128.88 L279.09,128.77 L279.82,128.71 M281.95,128.53 L283.03,128.45 L284.34,128.35 L285.65,128.25 L286.96,128.16 L288.27,128.06 L288.44,128.05 M290.56,127.91 L290.90,127.88 L292.21,127.80 L293.52,127.71 L294.84,127.63 L296.15,127.55 L297.05,127.50 M299.18,127.37 L300.09,127.32 L301.40,127.25 L302.71,127.18 L304.02,127.11 L305.34,127.04 L305.67,127.03 M307.80,126.92 L307.96,126.91 L309.28,126.85 L310.59,126.79 L311.90,126.73 L313.22,126.67 L314.29,126.63 M316.42,126.54 L317.16,126.51 L318.47,126.46 L319.78,126.41 L321.10,126.36 L322.41,126.31 L322.92,126.29 M325.05,126.22 L326.35,126.17 L327.67,126.13 L328.98,126.09 L330.30,126.04 L331.55,126.00 M333.68,125.94 L334.24,125.92 L335.55,125.88 L336.87,125.85 L338.18,125.81 L339.50,125.77 L340.17,125.75 M342.30,125.70 L343.44,125.67 L344.75,125.63 L346.07,125.60 L347.38,125.57 L348.70,125.53 L348.80,125.53 M350.93,125.48 L351.32,125.47 L352.64,125.44 L353.95,125.40 L355.27,125.37 L356.58,125.34 L357.43,125.32 M359.56,125.27 L360.53,125.25 L361.84,125.22 L363.15,125.19 L364.47,125.16 L365.78,125.13 L366.06,125.12 M368.19,125.08 L368.41,125.07 L369.73,125.04 L371.04,125.01 L372.36,124.98 L373.67,124.96 L374.69,124.93 M376.82,124.89 L377.61,124.87 L378.93,124.84 L380.24,124.81 L381.56,124.78 L382.87,124.76 L383.31,124.75 M385.44,124.70 L385.50,124.70" stroke="#800080"/>
</g>
<rect x="114" y="35.3" width="153.5" height="87.5" fill="#000"/>
<rect x="110.5" y="31.5" width="153" height="86.4" fill="#fff" stroke="#6a6a6a" stroke-width="0.75"/>
<line x1="112.3" y1="39.20" x2="120.1" y2="39.20" stroke="#ff0000" stroke-width="2.7"/>
<rect x="112.60" y="51.80" width="3.40" height="3.1" fill="#0000ff"/>
<rect x="112.60" y="65.95" width="3.40" height="3.1" fill="#00ff00"/>
<rect x="112.60" y="80.10" width="3.60" height="3.1" fill="#000000"/>
<rect x="112.60" y="94.25" width="3.30" height="3.1" fill="#ff8000"/>
<line x1="112.3" y1="109.95" x2="119.2" y2="109.95" stroke="#800080" stroke-width="2.7"/>
</svg>
<div class="t" style="left:214.3px;width:40px;text-align:center;top:7.9px;font-size:15.6px;transform:scaleX(0.81);">GR</div>
<div class="t yl" style="top:22.8px;">0.0015</div>
<div class="t yl" style="top:69.4px;">0.0010</div>
<div class="t yl" style="top:115.9px;">0.0005</div>
<div class="t yl" style="top:162.5px;">0.0000</div>
<div class="t yl" style="top:209.1px;">−0.0005</div>
<div class="t xl" style="left:73.4px;top:239.6px;">0</div>
<div class="t xl" style="left:133.8px;top:239.6px;">1</div>
<div class="t xl" style="left:194.2px;top:239.6px;">2</div>
<div class="t xl" style="left:254.7px;top:239.6px;">3</div>
<div class="t xl" style="left:315.1px;top:239.6px;">4</div>
<div class="t xl" style="left:375.5px;top:239.6px;">5</div>
<div class="t" style="left:224.6px;width:20px;text-align:center;top:258.6px;font-size:10.8px;transform:scaleX(0.93);">z</div>
<div class="t lg" style="top:33.20px;">w = −0.8</div>
<div class="t lg" style="top:47.19px;">ΛCDM</div>
<div class="t lg" style="top:61.18px;">w = −1.2</div>
<div class="t lg" style="top:75.17px;">(<i>w</i><sub>0</sub>,<i>w</i><sub><i>a</i></sub>): (0.8,0.3)</div>
<div class="t lg" style="top:89.16px;word-spacing:0.6px;">(<i>w</i><sub>0</sub>,<i>w</i><sub><i>a</i></sub>) = (−1.2,0.8)</div>
<div class="t lg" style="top:103.15px;">EDE (<i>w</i><sub>0</sub>,C): (−0.972,1.858)</div>
<svg width="60" height="277" viewBox="0 0 60 277" style="position:absolute;left:0;top:0;overflow:visible">
<g transform="translate(0,152.5) rotate(-90)" font-family="Liberation Serif, serif" fill="#111" stroke="#111" stroke-width="0.2">
<text x="0" y="15.4" font-size="9.8">&#937;</text>
<text x="7.8" y="16.8" font-size="6.5">m</text>
<text x="14.3" y="11" font-size="6.5" font-style="italic">&#947;</text>
<text x="19.5" y="10.6" font-size="6.5" letter-spacing="0.5">(z)</text>
<text x="30.1" y="15.4" font-size="9.8">&#8722;</text>
<text transform="translate(38.3,15.4) skewX(-12)" font-size="9.8" font-style="italic">f</text>
<line x1="0" x2="46" y1="23.4" y2="23.4" stroke="#444" stroke-width="0.8"/>
<text transform="translate(19.8,35.8) skewX(-12)" font-size="9.8" font-style="italic">f</text>
</g></svg>
</body></html>
